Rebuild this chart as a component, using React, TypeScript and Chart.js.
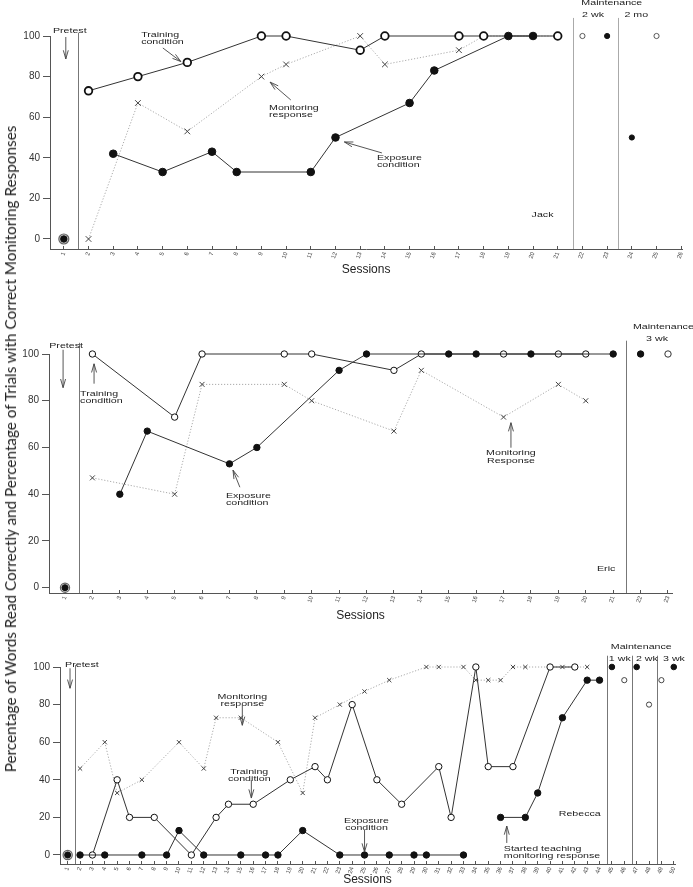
import React, { useEffect, useRef } from 'react';
import { Chart, registerables } from 'chart.js';
Chart.register(...registerables);

const FONT = '"Liberation Sans", "DejaVu Sans", sans-serif';
const TEXT_SIZE = 8;
const TEXT_STRETCH = 1.33;

// ---------------- Jack ----------------
const jackTicks = [1, 2, 3, 4, 5, 6, 7, 8, 9, 10, 11, 12, 13, 14, 15, 16, 17, 18, 19, 20, 21, 22, 23, 24, 25, 26];
const jackPretestSessions = [1];
const jackPretestValues = [0];
const jackTrainSessions = [2, 4, 6, 9, 10, 13, 14, 17, 18, 21];
const jackTrainValues = [73, 80, 87, 100, 100, 93, 100, 100, 100, 100];
const jackExposureSessions = [3, 5, 7, 8, 11, 12, 15, 16, 19, 20];
const jackExposureValues = [42, 33, 43, 33, 33, 50, 67, 83, 100, 100];
const jackMonitorSessions = [2, 4, 6, 9, 10, 13, 14, 17, 18, 21];
const jackMonitorValues = [0, 67, 53, 80, 86, 100, 86, 93, 100, 100];
const jackMaintTrainSessions = [22, 25];
const jackMaintTrainValues = [100, 100];
const jackMaintExposureSessions = [23, 24];
const jackMaintExposureValues = [100, 50];

// ---------------- Eric ----------------
const ericTicks = [1, 2, 3, 4, 5, 6, 7, 8, 9, 10, 11, 12, 13, 14, 15, 16, 17, 18, 19, 20, 21, 22, 23];
const ericPretestSessions = [1];
const ericPretestValues = [0];
const ericTrainSessions = [2, 5, 6, 9, 10, 13, 14, 17, 19, 20];
const ericTrainValues = [100, 73, 100, 100, 100, 93, 100, 100, 100, 100];
const ericExposureSessions = [3, 4, 7, 8, 11, 12, 15, 16, 18, 21];
const ericExposureValues = [40, 67, 53, 60, 93, 100, 100, 100, 100, 100];
const ericMonitorSessions = [2, 5, 6, 9, 10, 13, 14, 17, 19, 20];
const ericMonitorValues = [47, 40, 87, 87, 80, 67, 93, 73, 87, 80];
const ericMaintTrainSessions = [23];
const ericMaintTrainValues = [100];
const ericMaintExposureSessions = [22];
const ericMaintExposureValues = [100];

// ---------------- Rebecca ----------------
const rebeccaTicks = [1, 2, 3, 4, 5, 6, 7, 8, 9, 10, 11, 12, 13, 14, 15, 16, 17, 18, 19, 20, 21, 22, 23, 24, 25,
  26, 27, 28, 29, 30, 31, 32, 33, 34, 35, 36, 37, 38, 39, 40, 41, 42, 43, 44, 45, 46, 47, 48, 49, 50];
const rebeccaPretestSessions = [1];
const rebeccaPretestValues = [0];
const rebeccaTrainSessions = [3, 5, 6, 8, 11, 13, 14, 16, 19, 21, 22, 24, 26, 28, 31, 32, 34, 35, 37, 40, 42];
const rebeccaTrainValues = [0, 40, 20, 20, 0, 20, 27, 27, 40, 47, 40, 80, 40, 27, 47, 20, 100, 47, 47, 100, 100];
const rebeccaExposureSessions = [2, 4, 7, 9, 10, 12, 15, 17, 18, 20, 23, 25, 27, 29, 30, 33];
const rebeccaExposureValues = [0, 0, 0, 0, 13, 0, 0, 0, 0, 13, 0, 0, 0, 0, 0, 0];
const rebeccaTaughtSessions = [36, 38, 39, 41, 43, 44];
const rebeccaTaughtValues = [20, 20, 33, 73, 93, 93];
const rebeccaMonitorSessions = [2, 4, 5, 7, 10, 12, 13, 15, 18, 20, 21, 23, 25, 27, 30, 31, 33, 34, 35, 36, 37, 38, 41, 43];
const rebeccaMonitorValues = [46, 60, 33, 40, 60, 46, 73, 73, 60, 33, 73, 80, 87, 93, 100, 100, 100, 93, 93, 93, 100, 100, 100, 100];
const rebeccaMaintTrainSessions = [46, 48, 49];
const rebeccaMaintTrainValues = [93, 80, 93];
const rebeccaMaintExposureSessions = [45, 47, 50];
const rebeccaMaintExposureValues = [100, 100, 100];

const yTickValues = [0, 20, 40, 60, 80, 100];

type Txt = { t: string; s: number; v: number; align?: CanvasTextAlign; size?: number };
type Arr = { s1: number; v1: number; s2: number; v2: number };
type Sep = { s: number; v: number; color?: string };

function pts(sessions: number[], values: number[]) {
  return sessions.map((s, i) => ({ x: s, y: values[i] }));
}

type Sz = { r: number; bw: number; mr: number };

function trainDs(data: any, sz: Sz) {
  return {
    data, order: 2, clip: false, showLine: true, borderColor: '#333', borderWidth: 1,
    pointStyle: 'circle', pointRadius: sz.r, pointBackgroundColor: '#fff', pointBorderColor: '#111', pointBorderWidth: sz.bw,
  };
}
function expDs(data: any, sz: Sz) {
  return {
    data, order: 1, clip: false, showLine: true, borderColor: '#333', borderWidth: 1,
    pointStyle: 'circle', pointRadius: sz.r, pointBackgroundColor: '#111', pointBorderColor: '#111', pointBorderWidth: 1,
  };
}
function monDs(data: any, sz: Sz) {
  return {
    data, order: 3, clip: false, showLine: true, borderColor: '#aaa', borderWidth: 1, borderDash: [1.2, 1.8],
    pointStyle: 'crossRot', pointRadius: sz.mr, pointBorderColor: '#444', pointBorderWidth: 1,
  };
}
function maintTrainDs(data: any, r: number, bw: number) {
  return {
    data, order: 2, clip: false, showLine: false,
    pointStyle: 'circle', pointRadius: r, pointBackgroundColor: '#fff', pointBorderColor: '#333', pointBorderWidth: bw,
  };
}
function maintExpDs(data: any, r: number) {
  return {
    data, order: 1, clip: false, showLine: false,
    pointStyle: 'circle', pointRadius: r, pointBackgroundColor: '#111', pointBorderColor: '#111', pointBorderWidth: 1,
  };
}
function pretestDs(data: any, ring: number, dot: number) {
  return [
    { data, order: 5, clip: false, showLine: false, pointStyle: 'circle', pointRadius: ring, pointBackgroundColor: '#ccc', pointBorderColor: '#666', pointBorderWidth: 1.2 },
    { data, order: 0, clip: false, showLine: false, pointStyle: 'circle', pointRadius: dot, pointBackgroundColor: '#111', pointBorderColor: '#111', pointBorderWidth: 1 },
  ];
}

function drawArrow(ctx: CanvasRenderingContext2D, x1: number, y1: number, x2: number, y2: number) {
  const a = Math.atan2(y2 - y1, x2 - x1);
  const L = 9;
  const w = 0.28;
  ctx.beginPath();
  ctx.moveTo(x1, y1);
  ctx.lineTo(x2, y2);
  ctx.moveTo(x2 - L * Math.cos(a - w), y2 - L * Math.sin(a - w));
  ctx.lineTo(x2, y2);
  ctx.lineTo(x2 - L * Math.cos(a + w), y2 - L * Math.sin(a + w));
  ctx.stroke();
}

type PanelCfg = {
  top: number; height: number;
  padding: { left: number; right: number; top: number; bottom: number };
  yWidth: number; xHeight: number;
  xMin: number; xMax: number; yMin: number;
  ticks: number[];
  datasets: any[];
  texts: Txt[]; arrows: Arr[]; seps: Sep[];
};

function Panel({ cfg }: { cfg: PanelCfg }) {
  const ref = useRef<HTMLCanvasElement>(null);
  useEffect(() => {
    if (!ref.current) return;
    const annot = {
      id: 'annot',
      beforeDatasetsDraw(chart: any) {
        const { ctx, scales } = chart;
        const x = scales.x, y = scales.y;
        ctx.save();
        ctx.lineWidth = 1;
        for (const s of cfg.seps) {
          ctx.strokeStyle = s.color || '#8a8a8a';
          const px = Math.round(x.getPixelForValue(s.s)) + 0.5;
          ctx.beginPath();
          ctx.moveTo(px, y.getPixelForValue(s.v));
          ctx.lineTo(px, y.bottom);
          ctx.stroke();
        }
        ctx.restore();
      },
      afterDatasetsDraw(chart: any) {
        const { ctx, scales } = chart;
        const x = scales.x, y = scales.y;
        ctx.save();
        ctx.fillStyle = '#222';
        ctx.textBaseline = 'middle';
        for (const t of cfg.texts) {
          ctx.save();
          ctx.font = `${t.size || TEXT_SIZE}px ${FONT}`;
          ctx.textAlign = t.align || 'left';
          ctx.translate(x.getPixelForValue(t.s), y.getPixelForValue(t.v));
          ctx.scale(TEXT_STRETCH, 1);
          ctx.fillText(t.t, 0, 0);
          ctx.restore();
        }
        ctx.strokeStyle = '#444';
        ctx.lineWidth = 0.9;
        for (const a of cfg.arrows) {
          drawArrow(ctx, x.getPixelForValue(a.s1), y.getPixelForValue(a.v1), x.getPixelForValue(a.s2), y.getPixelForValue(a.v2));
        }
        ctx.restore();
      },
    };
    const chart = new Chart(ref.current, {
      type: 'line',
      data: { datasets: cfg.datasets },
      plugins: [annot],
      options: {
        animation: false,
        responsive: false,
        devicePixelRatio: 1,
        events: [],
        layout: { padding: cfg.padding },
        plugins: { legend: { display: false }, tooltip: { enabled: false }, title: { display: false } },
        scales: {
          x: {
            type: 'linear', min: cfg.xMin, max: cfg.xMax,
            afterBuildTicks: (s: any) => { s.ticks = cfg.ticks.map((v) => ({ value: v })); },
            afterFit: (s: any) => { s.height = cfg.xHeight; },
            grid: { drawOnChartArea: false, drawTicks: true, tickLength: -3, color: '#555' },
            border: { display: true, color: '#555', width: 1 },
            ticks: {
              autoSkip: false, maxRotation: 70, minRotation: 70, padding: 5,
              font: { size: 6, family: FONT }, color: '#444',
              callback: (v: any) => String(v),
            },
            title: { display: true, text: 'Sessions', font: { size: 12, family: FONT }, color: '#222', padding: { top: 0, bottom: 0 } },
          },
          y: {
            type: 'linear', min: cfg.yMin, max: 100,
            afterBuildTicks: (s: any) => { s.ticks = yTickValues.map((v) => ({ value: v })); },
            afterFit: (s: any) => { s.width = cfg.yWidth; },
            grid: { drawOnChartArea: false, drawTicks: true, tickLength: 7, color: '#555' },
            border: { display: true, color: '#555', width: 1 },
            ticks: { padding: 3, font: { size: 10, family: FONT }, color: '#333', callback: (v: any) => String(v) },
          },
        },
      } as any,
    });
    return () => chart.destroy();
  }, [cfg]);
  return (
    <div style={{ position: 'absolute', left: 0, top: cfg.top, width: 693, height: cfg.height }}>
      <canvas ref={ref} width={693} height={cfg.height} style={{ width: 693, height: cfg.height, display: 'block' }} />
    </div>
  );
}

const s1: Sz = { r: 3.8, bw: 1.8, mr: 4 };
const s2: Sz = { r: 3.2, bw: 1, mr: 3.5 };
const s3: Sz = { r: 3.2, bw: 1, mr: 3 };

const jackCfg: PanelCfg = {
  top: 0, height: 290,
  padding: { left: 0, right: 5, top: 36, bottom: 13 },
  yWidth: 50, xHeight: 28,
  xMin: 0.44, xMax: 26.04, yMin: -4.93,
  ticks: jackTicks,
  datasets: [
    ...pretestDs(pts(jackPretestSessions, jackPretestValues), 5, 3.2),
    monDs(pts(jackMonitorSessions, jackMonitorValues), s1),
    trainDs(pts(jackTrainSessions, jackTrainValues), s1),
    expDs(pts(jackExposureSessions, jackExposureValues), s1),
    maintTrainDs(pts(jackMaintTrainSessions, jackMaintTrainValues), 2.6, 0.8),
    maintExpDs(pts(jackMaintExposureSessions, jackMaintExposureValues), 2.6),
  ],
  texts: [
    { t: 'Pretest', s: 1.24, v: 102.5, align: 'center' },
    { t: 'Training', s: 4.13, v: 100.6 },
    { t: 'condition', s: 4.13, v: 97.1 },
    { t: 'Monitoring', s: 9.31, v: 64.5 },
    { t: 'response', s: 9.31, v: 61 },
    { t: 'Exposure', s: 13.68, v: 39.9 },
    { t: 'condition', s: 13.68, v: 36.4 },
    { t: 'Jack', s: 19.94, v: 11.8 },
    { t: 'Maintenance', s: 23.19, v: 116.3, align: 'center' },
    { t: '2 wk', s: 22.43, v: 110.5, align: 'center' },
    { t: '2 mo', s: 24.18, v: 110.5, align: 'center' },
  ],
  arrows: [
    { s1: 1.08, v1: 99.5, s2: 1.08, v2: 88.7 },
    { s1: 5.01, v1: 94.1, s2: 5.74, v2: 87.4 },
    { s1: 10.19, v1: 68.5, s2: 9.35, v2: 77.3 },
    { s1: 13.88, v1: 42.4, s2: 12.36, v2: 47.8 },
  ],
  seps: [
    { s: 1.56, v: 101.5, color: '#777' },
    { s: 21.6, v: 108.9, color: '#aaa' },
    { s: 23.45, v: 108.9, color: '#aaa' },
  ],
};

const ericCfg: PanelCfg = {
  top: 290, height: 342,
  padding: { left: 0, right: 21, top: 64, bottom: 9 },
  yWidth: 49, xHeight: 30,
  xMin: 0.416, xMax: 23.146, yMin: -2.27,
  ticks: ericTicks,
  datasets: [
    ...pretestDs(pts(ericPretestSessions, ericPretestValues), 4.6, 3),
    monDs(pts(ericMonitorSessions, ericMonitorValues), s2),
    trainDs(pts(ericTrainSessions, ericTrainValues), s2),
    expDs(pts(ericExposureSessions, ericExposureValues), s2),
    maintTrainDs(pts(ericMaintTrainSessions, ericMaintTrainValues), 3.2, 1),
    maintExpDs(pts(ericMaintExposureSessions, ericMaintExposureValues), 3.2),
  ],
  texts: [
    { t: 'Pretest', s: 1.04, v: 103.5, align: 'center' },
    { t: 'Training', s: 1.55, v: 83 },
    { t: 'condition', s: 1.55, v: 80 },
    { t: 'Exposure', s: 6.87, v: 39.3 },
    { t: 'condition', s: 6.87, v: 36.3 },
    { t: 'Monitoring', s: 17.27, v: 57.7, align: 'center' },
    { t: 'Response', s: 17.27, v: 54.5, align: 'center' },
    { t: 'Eric', s: 20.41, v: 8 },
    { t: 'Maintenance', s: 21.72, v: 111.7 },
    { t: '3 wk', s: 22.6, v: 106.6, align: 'center' },
  ],
  arrows: [
    { s1: 0.93, v1: 101.8, s2: 0.93, v2: 85.6 },
    { s1: 2.06, v1: 87.3, s2: 2.06, v2: 95.8 },
    { s1: 7.38, v1: 43, s2: 7.13, v2: 50.3 },
    { s1: 17.27, v1: 59.9, s2: 17.27, v2: 70.6 },
  ],
  seps: [
    { s: 1.51, v: 104.8, color: '#777' },
    { s: 21.47, v: 105.7, color: '#777' },
  ],
};

const rebeccaCfg: PanelCfg = {
  top: 632, height: 255,
  padding: { left: 0, right: 18, top: 35, bottom: 0 },
  yWidth: 60, xHeight: 23,
  xMin: 0.38, xMax: 50.1, yMin: -4.79,
  ticks: rebeccaTicks,
  datasets: [
    ...pretestDs(pts(rebeccaPretestSessions, rebeccaPretestValues), 4.6, 3),
    monDs(pts(rebeccaMonitorSessions, rebeccaMonitorValues), s3),
    trainDs(pts(rebeccaTrainSessions, rebeccaTrainValues), s3),
    expDs(pts(rebeccaExposureSessions, rebeccaExposureValues), s3),
    expDs(pts(rebeccaTaughtSessions, rebeccaTaughtValues), s3),
    maintTrainDs(pts(rebeccaMaintTrainSessions, rebeccaMaintTrainValues), 2.6, 0.9),
    maintExpDs(pts(rebeccaMaintExposureSessions, rebeccaMaintExposureValues), 2.8),
  ],
  texts: [
    { t: 'Pretest', s: 0.79, v: 101.4 },
    { t: 'Monitoring', s: 15.12, v: 84, align: 'center' },
    { t: 'response', s: 15.12, v: 80.6, align: 'center' },
    { t: 'Training', s: 15.68, v: 44.1, align: 'center' },
    { t: 'condition', s: 15.68, v: 40.7, align: 'center' },
    { t: 'Exposure', s: 25.16, v: 18.1, align: 'center' },
    { t: 'condition', s: 25.16, v: 14.5, align: 'center' },
    { t: 'Started teaching', s: 36.26, v: 3.3 },
    { t: 'monitoring response', s: 36.26, v: -0.5 },
    { t: 'Rebecca', s: 40.7, v: 21.8 },
    { t: 'Maintenance', s: 44.91, v: 111 },
    { t: '1 wk', s: 44.75, v: 104.6 },
    { t: '2 wk', s: 46.94, v: 104.6 },
    { t: '3 wk', s: 49.13, v: 104.6 },
  ],
  arrows: [
    { s1: 1.19, v1: 99.3, s2: 1.19, v2: 88.7 },
    { s1: 15.12, v1: 79.7, s2: 15.12, v2: 69 },
    { s1: 15.85, v1: 39.8, s2: 15.85, v2: 30.3 },
    { s1: 25.0, v1: 13.3, s2: 25.0, v2: 1.6 },
    { s1: 36.5, v1: 6.4, s2: 36.5, v2: 15.4 },
  ],
  seps: [
    { s: 1.6, v: 101, color: '#777' },
    { s: 44.57, v: 106, color: '#777' },
    { s: 46.59, v: 106, color: '#777' },
    { s: 48.64, v: 106, color: '#777' },
  ],
};

export default function App() {
  return (
    <div style={{ position: 'absolute', left: 0, top: 0, width: 693, height: 887, background: '#fff', overflow: 'hidden' }}>
      <Panel cfg={jackCfg} />
      <Panel cfg={ericCfg} />
      <Panel cfg={rebeccaCfg} />
      <div
        style={{
          position: 'absolute', left: 10, top: 449,
          transform: 'translate(-50%, -50%) rotate(-90deg)',
          whiteSpace: 'nowrap', font: '15.3px Lato, "Open Sans", sans-serif', color: '#222',
        }}
      >
        Percentage of Words Read Correctly and Percentage of Trials with Correct Monitoring Responses
      </div>
    </div>
  );
}
